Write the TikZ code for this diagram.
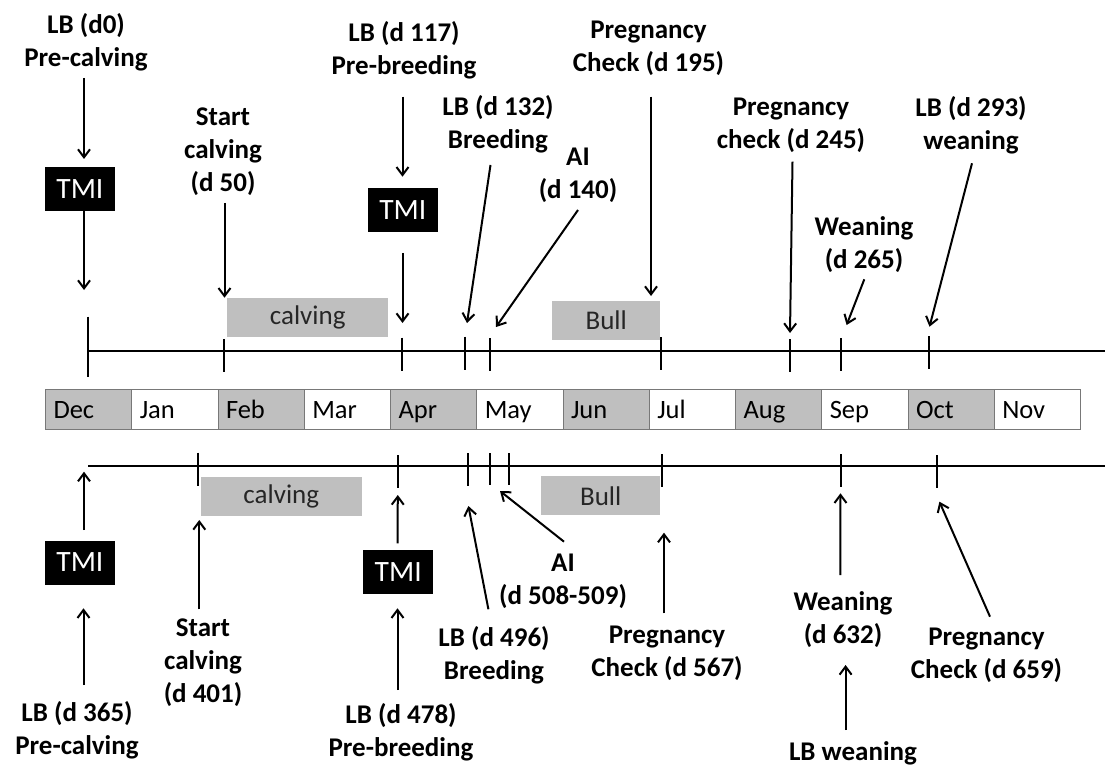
\documentclass[tikz,border=0pt]{standalone}
\usepackage{fontspec}
\setmainfont{Carlito}
\usetikzlibrary{arrows.meta}

\definecolor{shade}{RGB}{191,191,191}
\definecolor{rim}{RGB}{120,120,120}

\tikzset{
  lbl/.style={font=\fontsize{27}{33}\selectfont\bfseries, align=center, anchor=north, inner sep=0pt},
  tmi/.style={fill=black, text=white, font=\fontsize{29.5}{33}\selectfont, minimum width=70pt, minimum height=44pt, inner sep=0pt},
  band/.style={fill=shade, text=black!85, font=\fontsize{27}{33}\selectfont, minimum height=39pt, inner sep=0pt},
  month/.style={draw=rim, line width=1pt, anchor=north west, minimum height=40pt, inner xsep=8pt, inner ysep=0pt,
    text width=70.25pt, align=left, text height=18pt, text depth=0pt, font=\fontsize{26.5}{33}\selectfont},
  arr/.style={-{Straight Barb[length=8pt,width=12pt]}, line width=2pt},
  tick/.style={line width=2.1pt}
}

\begin{document}
\begin{tikzpicture}[x=1pt,y=-1pt]
\useasboundingbox (0,0) rectangle (1105,767);

% month bar
\node[month, fill=shade] (DEC) at (45,389) {Dec};
\node[month, fill=white] (JAN) at (131.25,389) {Jan};
\node[month, fill=shade] (FEB) at (217.5,389) {Feb};
\node[month, fill=white] (MAR) at (303.75,389) {Mar};
\node[month, fill=shade] (APR) at (390,389) {Apr};
\node[month, fill=white] (MAY) at (476.25,389) {May};
\node[month, fill=shade] (JUN) at (562.5,389) {Jun};
\node[month, fill=white] (JUL) at (648.75,389) {Jul};
\node[month, fill=shade] (AUG) at (735,389) {Aug};
\node[month, fill=white] (SEP) at (821.25,389) {Sep};
\node[month, fill=shade] (OCT) at (907.5,389) {Oct};
\node[month, fill=white] (NOV) at (993.75,389) {Nov};

% first year
\coordinate (TL) at (88,350.7);
\coordinate (TR) at (1105,350.7);
\draw[tick] (TL) -- (TR);
\draw[tick] (88,316.7) -- (88,377);
\draw[tick] (224,339) -- (224,372);
\draw[tick] (402.3,337.7) -- (402.3,371);
\draw[tick] (465.3,336.7) -- (465.3,370);
\draw[tick] (490.3,338) -- (490.3,371);
\draw[tick] (661,337) -- (661,370);
\draw[tick] (790.3,339) -- (790.3,372);
\draw[tick] (840.7,338) -- (840.7,371);
\draw[tick] (928.7,336) -- (928.7,369);

\node[band, minimum width=161.4pt] (CALVA) at (307.7,317) {calving};
\node[band, minimum width=108.4pt] (BULLA) at (606.2,320.4) {Bull};
\node[tmi] (TMIA) at (79.9,188.7) {TMI};
\node[tmi] (TMIB) at (402.8,209.7) {TMI};

\node[lbl] (LBA) at (86,10.2) {\strut LB (d0)\\Pre-calving};
\node[lbl] (SCA) at (223,101.9) {\strut Start\\calving\\(d 50)};
\node[lbl] (LBB) at (404,17.9) {\strut LB (d 117)\\Pre-breeding};
\node[lbl] (LBC) at (498,91.9) {\strut LB (d 132)\\Breeding};
\node[lbl] (AIA) at (578,141.9) {\strut AI\\(d 140)};
\node[lbl] (PCA) at (648.5,15.2) {\strut Pregnancy\\Check (d 195)};
\node[lbl] (PCB) at (791,91.9) {\strut Pregnancy\\check (d 245)};
\node[lbl] (WNA) at (864,211.9) {\strut Weaning\\(d 265)};
\node[lbl] (LBD) at (971,93.6) {\strut LB (d 293)\\weaning};

\coordinate (A1s) at (84,78);       \coordinate (A1e) at (84,159);
\coordinate (A2s) at (84,210.7);    \coordinate (A2e) at (84,290);
\coordinate (A3s) at (224.5,203);   \coordinate (A3e) at (224.5,297.7);
\coordinate (A4s) at (402.5,96.7);  \coordinate (A4e) at (402.5,176.7);
\coordinate (A5s) at (402.5,253);   \coordinate (A5e) at (402.5,323);
\coordinate (A6s) at (490.5,165);   \coordinate (A6e) at (467,323);
\coordinate (A7s) at (578,210);     \coordinate (A7e) at (496,327);
\coordinate (A8s) at (651,96.7);    \coordinate (A8e) at (651,296);
\coordinate (A9s) at (792.5,161.7); \coordinate (A9e) at (790,333);
\coordinate (A10s) at (864.3,279.3); \coordinate (A10e) at (846.6,325);
\coordinate (A11s) at (972,163.3);  \coordinate (A11e) at (929.5,326.7);
\path[arr]
  (A1s) edge (A1e)
  (A2s) edge (A2e)
  (A3s) edge (A3e)
  (A4s) edge (A4e)
  (A5s) edge (A5e)
  (A6s) edge (A6e)
  (A7s) edge (A7e)
  (A8s) edge (A8e)
  (A9s) edge (A9e)
  (A10s) edge (A10e)
  (A11s) edge (A11e);

% second year
\coordinate (BL) at (88,466);
\coordinate (BR) at (1105,466);
\draw[tick] (BL) -- (BR);
\draw[tick] (198,452.7) -- (198,486);
\draw[tick] (398.3,455) -- (398.3,488);
\draw[tick] (468,453) -- (468,486);
\draw[tick] (489.7,453) -- (489.7,485);
\draw[tick] (508.7,453) -- (508.7,485);
\draw[tick] (662.3,454) -- (662.3,487);
\draw[tick] (840.7,454) -- (840.7,487);
\draw[tick] (936.7,455) -- (936.7,488);

\node[band, minimum width=161.5pt] (CALVB) at (281.3,496) {calving};
\node[band, minimum width=119.4pt] (BULLB) at (600.7,495.8) {Bull};
\node[tmi] (TMIC) at (79.9,562.5) {TMI};
\node[tmi] (TMID) at (398.2,572) {TMI};

\node[lbl] (LBE) at (77,698.6) {\strut LB (d 365)\\Pre-calving};
\node[lbl] (SCB) at (203,613.6) {\strut Start\\calving\\(d 401)};
\node[lbl] (LBF) at (401,700.2) {\strut LB (d 478)\\Pre-breeding};
\node[lbl] (LBG) at (494,623.6) {\strut LB (d 496)\\Breeding};
\node[lbl] (AIB) at (563,547.9) {\strut AI\\(d 508-509)};
\node[lbl] (PCC) at (667,620.2) {\strut Pregnancy\\Check (d 567)};
\node[lbl] (WNB) at (843,586.9) {\strut Weaning\\(d 632)};
\node[lbl] (LBH) at (853,736.9) {\strut LB weaning};
\node[lbl] (PCD) at (986.5,621.9) {\strut Pregnancy\\Check (d 659)};

\coordinate (B1s) at (84,530);       \coordinate (B1e) at (84,471.7);
\coordinate (B2s) at (83.5,685);     \coordinate (B2e) at (83.5,608.3);
\coordinate (B3s) at (199.3,609.3);  \coordinate (B3e) at (199.3,520);
\coordinate (B4s) at (397.5,543.3);  \coordinate (B4e) at (397.8,495);
\coordinate (B5s) at (397.5,690);    \coordinate (B5e) at (397.5,608.3);
\coordinate (B6s) at (488.4,609.3);  \coordinate (B6e) at (468.4,506);
\coordinate (B7s) at (564,541.7);    \coordinate (B7e) at (500,491);
\coordinate (B8s) at (664,613.3);    \coordinate (B8e) at (664,532.7);
\coordinate (B9s) at (840.3,575);    \coordinate (B9e) at (840.5,493.3);
\coordinate (B10s) at (845.6,730);   \coordinate (B10e) at (845.6,665);
\coordinate (B11s) at (990,616.7);   \coordinate (B11e) at (939.4,501.7);
\path[arr]
  (B1s) edge (B1e)
  (B2s) edge (B2e)
  (B3s) edge (B3e)
  (B4s) edge (B4e)
  (B5s) edge (B5e)
  (B6s) edge (B6e)
  (B7s) edge (B7e)
  (B8s) edge (B8e)
  (B9s) edge (B9e)
  (B10s) edge (B10e)
  (B11s) edge (B11e);
\end{tikzpicture}
\end{document}
